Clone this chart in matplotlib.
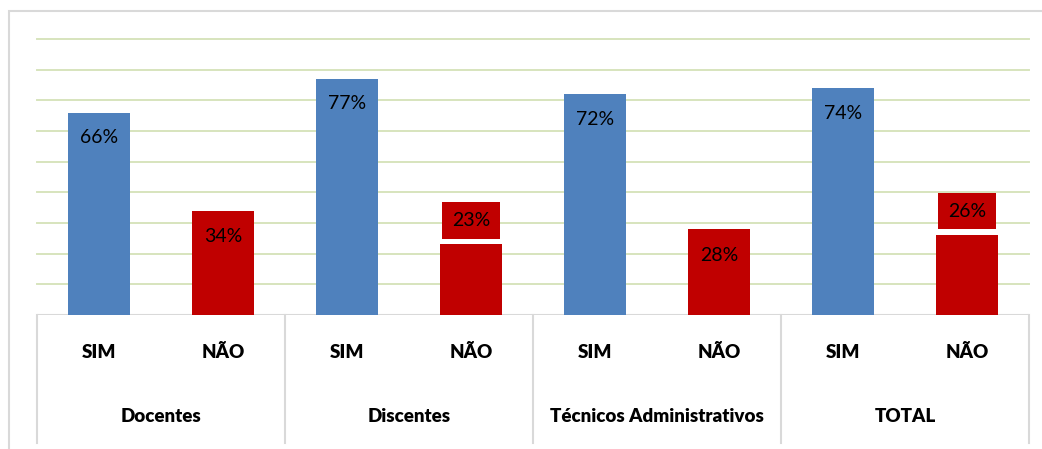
import matplotlib.pyplot as plt
from matplotlib.patches import Rectangle

groups = ['Docentes', 'Discentes', 'Técnicos Administrativos', 'TOTAL']
answers = ['SIM', 'NÃO']
sim_values = [66, 77, 72, 74]
nao_values = [34, 23, 28, 26]

# labels that excel pushed above the bar, in a red box
boxed_above = {1, 3}

BLUE = '#4F81BD'
RED = '#C00000'
GRID = '#D7E4BD'
LINE = '#D9D9D9'

plt.rcParams['font.family'] = ['Lato', 'DejaVu Sans']

W, H = 1042, 449
fig = plt.figure(figsize=(W / 100, H / 100), dpi=100)
ax = fig.add_axes([37 / W, (H - 315) / H, (1029 - 37) / W, (315 - 39) / H])

# outer chart border
fig.patches.append(Rectangle((9 / W, -0.1), 1.2, (H - 11) / H + 0.1,
                             transform=fig.transFigure, fill=False,
                             edgecolor=LINE, linewidth=1.5))

ymax = 90
px = ymax / (315 - 39)  # data units per pixel
n = len(groups) * len(answers)
ax.set_xlim(-0.5, n - 0.5)
ax.set_ylim(0, ymax)

for tick in range(10, ymax + 1, 10):
    ax.axhline(tick, color=GRID, linewidth=1.4, zorder=0, clip_on=False)

for g in range(len(groups)):
    xs = g * 2
    ax.bar(xs, sim_values[g], width=0.5, color=BLUE, zorder=2)
    ax.bar(xs + 1, nao_values[g], width=0.5, color=RED, zorder=2)

    ax.text(xs, sim_values[g] - 25 * px, f'{sim_values[g]}%', ha='center',
            va='center', fontsize=14, zorder=3)
    if g in boxed_above:
        ax.text(xs + 1, nao_values[g] + 24 * px, f'{nao_values[g]}%', ha='center',
                va='center', fontsize=14, zorder=3,
                bbox=dict(boxstyle='square,pad=0.5', facecolor=RED, edgecolor='none'))
    else:
        ax.text(xs + 1, nao_values[g] - 26 * px, f'{nao_values[g]}%', ha='center',
                va='center', fontsize=14, zorder=3)

    for i, a in enumerate(answers):
        ax.text(xs + i, -37 * px, a, ha='center', va='center', fontsize=13.5,
                fontweight='heavy', clip_on=False)
    ax.text(xs + 0.5, -102 * px, groups[g], ha='center', va='center',
            fontsize=13.5, fontweight='heavy', clip_on=False)

# category separators
for b in range(len(groups) + 1):
    ax.plot([b * 2 - 0.5] * 2, [0, -128 * px], color=LINE, linewidth=1.5,
            clip_on=False, zorder=1)

ax.axhline(0, color=LINE, linewidth=1.5, zorder=1)
for s in ax.spines.values():
    s.set_visible(False)
ax.set_xticks([])
ax.set_yticks([])

fig.savefig('out.png', dpi=100)
